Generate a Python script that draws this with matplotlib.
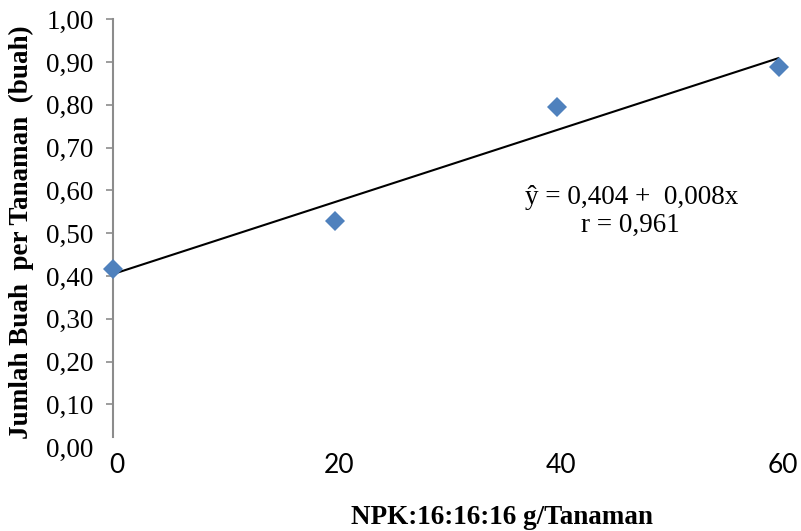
import numpy as np
import matplotlib
matplotlib.use("Agg")
import matplotlib.pyplot as plt
from matplotlib.ticker import FuncFormatter
import matplotlib.transforms as mtransforms

# data
npk_dose = [0, 20, 40, 60]
fruit_count = [0.416, 0.528, 0.795, 0.888]
y_ticks = [0.0, 0.1, 0.2, 0.3, 0.4, 0.5, 0.6, 0.7, 0.8, 0.9, 1.0]
x_ticks = [0, 20, 40, 60]
eq_text = "ŷ = 0,404 +  0,008x"
r_text = "r = 0,961"

POINT_COLOR = "#4F81BD"
SERIF = "Liberation Serif"

fig = plt.figure(figsize=(8.01, 5.31), dpi=100)
ax = fig.add_axes([0.141, 0.158, 0.8315, 0.806])

# trend line from a least squares fit
slope, intercept = np.polyfit(npk_dose, fruit_count, 1)
xs = np.array([min(npk_dose), max(npk_dose)])
ax.plot(xs, intercept + slope * xs, color="black", linewidth=1.5, zorder=2)

ax.plot(npk_dose, fruit_count, linestyle="none", marker="D", markersize=10,
        color=POINT_COLOR, markeredgewidth=0, clip_on=False, zorder=3)

ax.set_xlim(0, 60)
ax.set_ylim(0, 1.0)

ax.set_yticks(y_ticks)
ax.yaxis.set_major_formatter(FuncFormatter(lambda v, p: f"{v:.2f}".replace(".", ",")))
for lab in ax.get_yticklabels():
    lab.set_fontfamily(SERIF)
    lab.set_fontsize(19.5)
ax.tick_params(axis="y", direction="out", length=5, width=1.2, color="#8C8C8C", pad=9)
ax.yaxis.get_major_ticks()[0].tick1line.set_visible(False)

# x tick labels drawn by hand, shifted a bit right like the original
ax.set_xticks([])
shift = mtransforms.ScaledTranslation(4 / 100, -18 / 100, fig.dpi_scale_trans)
for xt in x_ticks:
    ax.text(xt, 0, str(xt), transform=ax.get_xaxis_transform() + shift,
            fontfamily="Lato", fontsize=19, ha="center", va="center")

for side in ["top", "right", "bottom"]:
    ax.spines[side].set_visible(False)
ax.spines["left"].set_color("#8C8C8C")
ax.spines["left"].set_linewidth(1.5)
ax.spines["left"].set_bounds(0.023, 1.0)

fig.text(0.789, 0.629, eq_text, fontfamily=SERIF, fontsize=19.5, ha="center", va="center")
fig.text(0.787, 0.576, r_text, fontfamily=SERIF, fontsize=19.5, ha="center", va="center")

fig.text(0.627, 0.026, "NPK:16:16:16 g/Tanaman", fontfamily=SERIF, fontsize=19.5,
         fontweight="bold", ha="center", va="center")
fig.text(0.027, 0.563, "Jumlah Buah  per Tanaman  (buah)", fontfamily=SERIF, fontsize=19.5,
         fontweight="bold", rotation=90, ha="center", va="center")

fig.savefig("out.png", dpi=100, facecolor="white")
